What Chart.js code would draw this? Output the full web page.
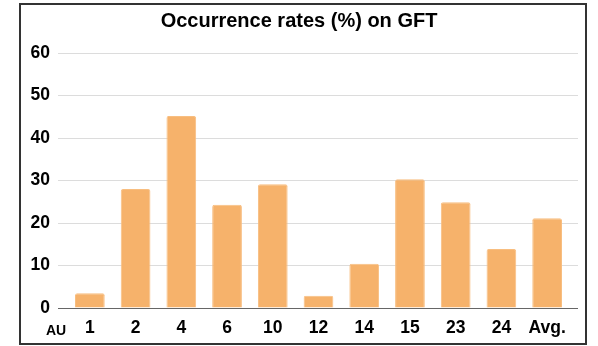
<!DOCTYPE html>
<html>
<head>
<meta charset="utf-8">
<script src="https://cdn.jsdelivr.net/npm/chart.js@4.4.0/dist/chart.umd.min.js"></script>
<style>
  html, body { margin: 0; padding: 0; background: #fff; }
  #wrap { width: 598px; height: 346px; position: relative; }
</style>
</head>
<body>
<div id="wrap"><canvas id="chart" width="598" height="346"></canvas></div>
<script>
const categories = ['1', '2', '4', '6', '10', '12', '14', '15', '23', '24', 'Avg.'];
const rates = [3.5, 28, 45.2, 24.3, 29.1, 2.9, 10.4, 30.3, 24.9, 13.9, 21.1];
const yTicks = [0, 10, 20, 30, 40, 50, 60];

const FONT = "'Liberation Sans', Arial, sans-serif";

// frame around the whole chart + the "AU" label under the y axis
const extras = {
    id: 'extras',
    afterLayout(chart) {
        // categories sit a bit inside the gridlines
        const x = chart.scales.x;
        x.left += 9;
        x.right -= 8;
        x.width = x.right - x.left;
        x.configure();
    },
    afterDraw(chart) {
        const c = chart.ctx;
        c.save();
        c.strokeStyle = '#333';
        c.lineWidth = 2;
        c.strokeRect(20, 4, 566, 340);
        c.fillStyle = '#000';
        c.font = 'bold 14px ' + FONT;
        c.textAlign = 'center';
        c.textBaseline = 'middle';
        c.fillText('AU', 56, 331);
        c.restore();
    }
};

new Chart(document.getElementById('chart'), {
    type: 'bar',
    data: {
        labels: categories,
        datasets: [{
            data: rates,
            backgroundColor: '#F6B26B',
            borderColor: '#F8BE80',
            borderWidth: 1,
            borderRadius: 2,
            borderSkipped: 'bottom',
            barPercentage: 0.65,
            categoryPercentage: 1
        }]
    },
    options: {
        responsive: false,
        animation: false,
        layout: { padding: { left: 20, right: 20, top: 6, bottom: 8 } },
        plugins: {
            legend: { display: false },
            tooltip: { enabled: false },
            title: {
                display: true,
                text: 'Occurrence rates (%) on GFT',
                color: '#000',
                font: { family: FONT, size: 20, weight: 'bold' },
                padding: { top: 3, bottom: 20 }
            }
        },
        scales: {
            x: {
                grid: { display: false, drawTicks: false },
                border: { display: false },
                ticks: {
                    color: '#000',
                    padding: 10,
                    font: { family: FONT, size: 17.5, weight: 'bold' }
                },
                afterFit(scale) { scale.height = 30; }
            },
            y: {
                min: 0,
                max: 60,
                afterBuildTicks(scale) { scale.ticks = yTicks.map(v => ({ value: v })); },
                grid: {
                    color: ctx => ctx.tick && ctx.tick.value === 0 ? '#666' : '#dcdcdc',
                    drawTicks: false
                },
                border: { display: false },
                ticks: {
                    color: '#000',
                    padding: 8,
                    font: { family: FONT, size: 17.5, weight: 'bold' }
                },
                afterFit(scale) { scale.width = 38; }
            }
        }
    },
    plugins: [extras]
});
</script>
</body>
</html>
